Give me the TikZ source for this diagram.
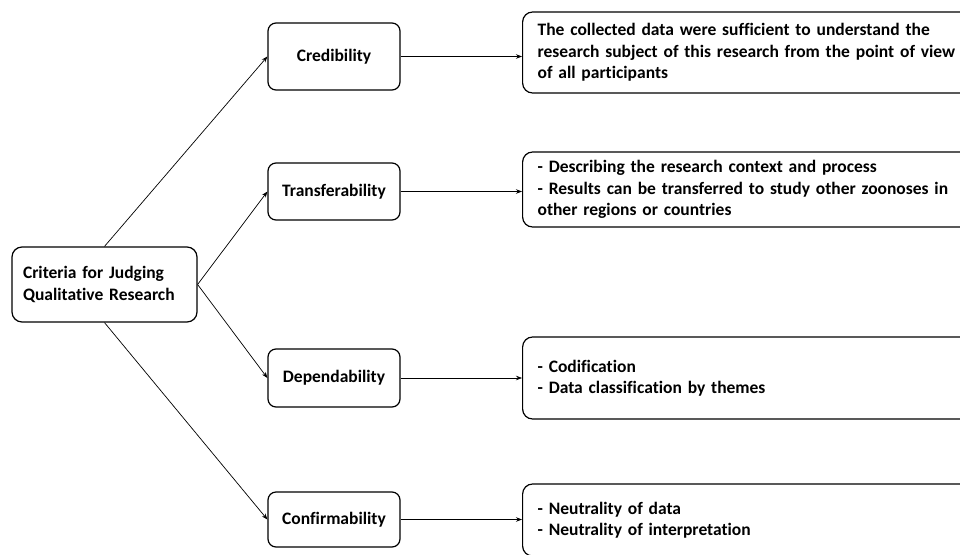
\documentclass[tikz,border=0pt]{standalone}
\usepackage{fontspec}
\setmainfont{Carlito}[Ligatures=NoCommon]
\usetikzlibrary{arrows.meta}
\begin{document}
\begin{tikzpicture}[x=1pt,y=-1pt,
  every node/.style={font=\fontsize{17.5}{21.5}\selectfont\bfseries},
  midbox/.style={draw, line width=1.2pt, rounded corners=8pt, minimum width=132pt, align=center, inner sep=0pt},
  rootbox/.style={draw, line width=1.2pt, rounded corners=10pt, minimum width=185pt, text width=163pt, minimum height=75pt, align=left, inner xsep=11pt, inner ysep=0pt},
  detbox/.style={draw, line width=1.2pt, rounded corners=10pt, minimum width=453pt, text width=423pt, align=left, inner xsep=15pt, inner ysep=0pt, anchor=west},
  conn/.style={line width=0.7pt, -{Stealth[length=6pt,width=4.5pt]}}]
\useasboundingbox (0,0) rectangle (960,554);
\clip (0,0) rectangle (960,554);
\fill[white] (0,0) rectangle (960,554);
\node[rootbox] (root) at (104.5,284.5) {Criteria for Judging\\Qualitative Research};
\node[midbox, minimum height=67pt] (cred) at (334,56.5) {Credibility};
\node[midbox, minimum height=57pt] (trans) at (334,191.5) {Transferability};
\node[midbox, minimum height=58pt] (dep) at (334,378) {Dependability};
\node[midbox, minimum height=55pt] (conf) at (334,519.5) {Confirmability};
\node[detbox, minimum height=81pt] (r1) at (522,52.5) {The collected data were sufficient to understand the\\research subject of this research from the point of view\\of all participants};
\node[detbox, minimum height=75pt] (r2) at (522,189.5) {- Describing the research context and process\\- Results can be transferred to study other zoonoses in\\other regions or countries};
\node[detbox, minimum height=82pt] (r3) at (522,378) {- Codification\\- Data classification by themes};
\node[detbox, minimum height=72pt] (r4) at (522,520) {- Neutrality of data\\- Neutrality of interpretation};
\draw[conn] (root.north) -- (cred.west);
\draw[conn] (root.east) -- (trans.west);
\draw[conn] (root.east) -- (dep.west);
\draw[conn] (root.south) -- (conf.west);
\draw[conn] (cred.east) -- (cred.east -| r1.west);
\draw[conn] (trans.east) -- (trans.east -| r2.west);
\draw[conn] (dep.east) -- (dep.east -| r3.west);
\draw[conn] (conf.east) -- (conf.east -| r4.west);
\end{tikzpicture}
\end{document}
